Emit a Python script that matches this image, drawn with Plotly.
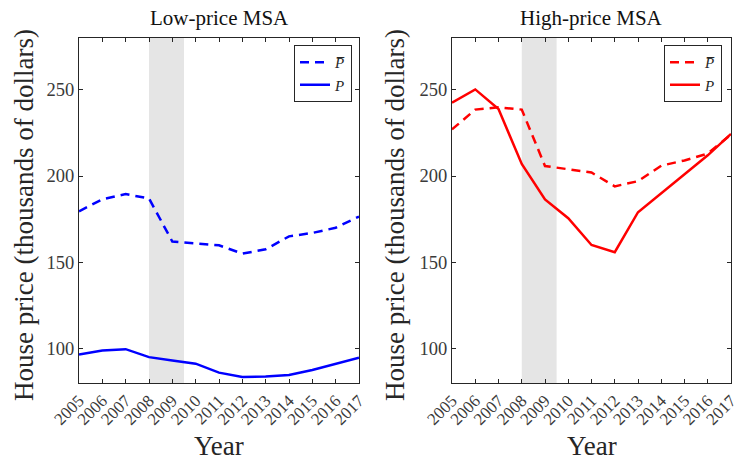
import plotly.graph_objects as go

years = list(range(2005, 2018))
low_pbar = [179.5, 186.5, 189.5, 187, 162, 161, 159.8, 155, 157.5, 165, 167, 170, 176.5]
low_p = [96.5, 98.8, 99.6, 95, 93, 91.2, 86, 83.5, 83.8, 84.6, 87.5, 91, 94.6]
high_pbar = [227, 238.5, 239.8, 238.5, 205.8, 204, 202, 194, 197, 206, 209, 213, 224]
high_p = [242.5, 250.2, 238.8, 207, 186.4, 175.5, 160, 155.8, 179, 190, 201.5, 212, 224.4]
recession = [2008, 2009.5]
titles = ["Low-price MSA", "High-price MSA"]
ylabel = "House price (thousands of dollars)"
xlabel = "Year"
yticks = [100, 150, 200, 250]

W, H = 738, 462
FONT = "Liberation Serif"
AX = "#262626"


def px(x):
    return x / W


def py(y):
    return 1 - y / H


fig = go.Figure()

doms = [(px(79), px(359)), (px(452), px(731))]
ydom = (py(383), py(38))
colors = ["#0000ff", "#ff0000"]
data = [(low_pbar, low_p), (high_pbar, high_p)]

for i, ((pbar, p), col) in enumerate(zip(data, colors)):
    xa = "x" if i == 0 else "x2"
    ya = "y" if i == 0 else "y2"
    leg = "legend" if i == 0 else "legend2"
    fig.add_trace(go.Scatter(x=years, y=pbar, mode="lines", xaxis=xa, yaxis=ya,
                             line=dict(color=col, width=2.5, dash="9px,6px"),
                             name="<i>P̅</i>", legend=leg))
    fig.add_trace(go.Scatter(x=years, y=p, mode="lines", xaxis=xa, yaxis=ya,
                             line=dict(color=col, width=2.5),
                             name="<i>P</i>", legend=leg))
    fig.add_shape(type="rect", xref=xa, yref=f"{ya} domain", x0=recession[0], x1=recession[1],
                  y0=0, y1=1, fillcolor="#e5e5e5", line=dict(width=0), layer="below")

axis_common = dict(showgrid=False, zeroline=False, showline=True, linecolor=AX, linewidth=1,
                   mirror="ticks", ticks="inside", ticklen=4, tickcolor=AX, automargin=False,
                   ticklabeloverflow="allow",
                   tickfont=dict(family=FONT, size=18.5, color="#3a3a3a"))

for i in range(2):
    sfx = "" if i == 0 else "2"
    fig.update_layout(**{
        f"xaxis{sfx}": dict(axis_common, domain=doms[i], range=[2005, 2017],
                            tickvals=years, ticktext=[str(y) for y in years], tickangle=-45,
                            anchor=f"y{sfx}", tickfont=dict(family=FONT, size=17, color="#3a3a3a")),
        f"yaxis{sfx}": dict(axis_common, domain=ydom, range=[80, 280], tickvals=yticks,
                            anchor=f"x{sfx}"),
    })
    cx = (doms[i][0] + doms[i][1]) / 2
    fig.add_annotation(text=titles[i], x=cx, y=py(18), xref="paper", yref="paper",
                       xanchor="center", yanchor="middle",
                       showarrow=False, font=dict(family=FONT, size=21, color="#111111"))
    fig.add_annotation(text=xlabel, x=cx, y=py(446), xref="paper", yref="paper",
                       xanchor="center", yanchor="middle",
                       showarrow=False, font=dict(family=FONT, size=27, color=AX))
    yx = [24, 395][i]
    fig.add_annotation(text=ylabel, x=px(yx), y=py(215), xref="paper", yref="paper",
                       xanchor="center", yanchor="middle",
                       textangle=-90, showarrow=False, font=dict(family=FONT, size=27, color=AX))

legend_common = dict(xanchor="right", yanchor="top", bgcolor="white", bordercolor=AX,
                     borderwidth=1, font=dict(family=FONT, size=15, color=AX),
                     tracegroupgap=0, itemwidth=30)
fig.update_layout(
    width=W, height=H, margin=dict(l=0, r=0, t=0, b=0, autoexpand=False),
    paper_bgcolor="white", plot_bgcolor="white",
    legend=dict(legend_common, x=px(352), y=py(45)),
    legend2=dict(legend_common, x=px(722), y=py(45)),
    showlegend=True,
)

fig.write_html("out.html", config={"displayModeBar": False},
               post_script="document.body.style.margin='0';")
